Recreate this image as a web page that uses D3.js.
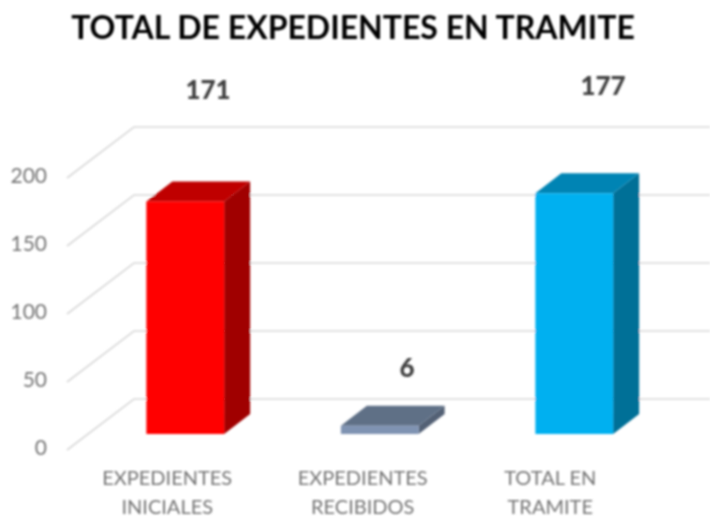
<!DOCTYPE html>
<html lang="en">
  <head>
    <meta charset="utf-8">
    <title>Total de expedientes en tramite</title>
    <script src="https://cdn.jsdelivr.net/npm/d3@7"></script>
    <style>
      html, body { margin: 0; padding: 0; background: #fff; }
      svg { display: block; }
      text { font-family: Lato, "Open Sans", sans-serif; }
      .axis path, .axis line { display: none; }
      .axis text { font-family: Lato, sans-serif; font-size: 20px; fill: #757575; }
    </style>
  </head>
  <body>
    <script>
      var w = 710;
      var h = 518;

      var titleText = "TOTAL DE EXPEDIENTES EN TRAMITE";
      var categories = ["EXPEDIENTES INICIALES", "EXPEDIENTES RECIBIDOS", "TOTAL EN TRAMITE"];
      var catLines = [["EXPEDIENTES", "INICIALES"], ["EXPEDIENTES", "RECIBIDOS"], ["TOTAL EN", "TRAMITE"]];
      var values = [171, 6, 177];
      var yTicks = [0, 50, 100, 150, 200];

      var faceColors = ["#ff0000", "#7f93b2", "#00b0f0"];
      var topColors = ["#bf0000", "#5f6f86", "#0084b4"];
      var sideColors = ["#a00000", "#526075", "#006f97"];

      // hand-placed labels, same as the original
      var labelX = [208, 407, 603];
      var labelY = [99, 377, 95];
      var catShift = [-18, -17, -24];

      var yScale = d3.scaleLinear().domain([0, 200]).range([450, 178]);
      var xScale = d3.scaleBand().domain(categories).range([88, 671.5]).paddingInner(0.6).paddingOuter(0.3);

      // wall offset and bar depth of the fake 3d
      var wallDx = 67, wallDy = -51;
      var barDx = 26, barDy = -20;
      var floorDy = -16;

      var svg = d3.select("body").append("svg").attr("width", w).attr("height", h);

      var defs = svg.append("defs");
      defs.append("filter").attr("id", "soft")
          .append("feGaussianBlur").attr("stdDeviation", 0.8);

      var root = svg.append("g").attr("filter", "url(#soft)");

      root.append("text")
          .attr("x", 353)
          .attr("y", 39)
          .attr("text-anchor", "middle")
          .attr("font-size", 32)
          .attr("font-weight", 700)
          .attr("fill", "#000")
          .text(titleText);

      // grid: wall line plus the slanted bit down to the axis
      var x0 = 67;
      root.selectAll(".grid")
          .data(yTicks)
          .enter()
          .append("path")
          .attr("class", "grid")
          .attr("fill", "none")
          .attr("stroke", "#d9d9d9")
          .attr("stroke-width", 1.6)
          .attr("d", function(d) {
            var y = yScale(d);
            return "M" + x0 + "," + y + "L" + (x0 + wallDx) + "," + (y + wallDy) + "H" + w;
          });

      var bars = root.selectAll(".bar")
          .data(values)
          .enter()
          .append("g")
          .attr("class", "bar");

      function barBox(d, i) {
        var x = xScale(categories[i]);
        return {
          x: x,
          r: x + xScale.bandwidth(),
          top: yScale(d) + floorDy,
          bottom: yScale(0) + floorDy
        };
      }

      bars.append("path")
          .attr("fill", function(d, i) { return sideColors[i]; })
          .attr("d", function(d, i) {
            var b = barBox(d, i);
            return "M" + b.r + "," + b.top + "l" + barDx + "," + barDy + "V" + (b.bottom + barDy) + "L" + b.r + "," + b.bottom + "Z";
          });

      bars.append("path")
          .attr("fill", function(d, i) { return topColors[i]; })
          .attr("d", function(d, i) {
            var b = barBox(d, i);
            return "M" + b.x + "," + b.top + "l" + barDx + "," + barDy + "H" + (b.r + barDx) + "L" + b.r + "," + b.top + "Z";
          });

      bars.append("rect")
          .attr("fill", function(d, i) { return faceColors[i]; })
          .attr("x", function(d, i) { return barBox(d, i).x; })
          .attr("y", function(d, i) { return barBox(d, i).top; })
          .attr("width", xScale.bandwidth())
          .attr("height", function(d, i) { var b = barBox(d, i); return b.bottom - b.top; });

      root.selectAll(".value")
          .data(values)
          .enter()
          .append("text")
          .attr("class", "value")
          .attr("x", function(d, i) { return labelX[i]; })
          .attr("y", function(d, i) { return labelY[i]; })
          .attr("text-anchor", "middle")
          .attr("font-size", 26)
          .attr("font-weight", 900)
          .attr("fill", "#404040")
          .text(function(d) { return d; });

      var yAxis = d3.axisLeft(yScale).tickValues(yTicks).tickSize(0).tickPadding(0);
      root.append("g")
          .attr("class", "axis")
          .attr("transform", "translate(47,-2)")
          .call(yAxis)
          .selectAll("text")
          .style("font-size", "21px");

      var xAxis = d3.axisBottom(xScale).tickSize(0).tickFormat("");
      var xAxisG = root.append("g")
          .attr("class", "axis")
          .attr("transform", "translate(0,464)")
          .call(xAxis);

      xAxisG.selectAll(".tick text")
          .attr("y", 0)
          .attr("dy", null)
          .each(function(d, i) {
            var t = d3.select(this);
            t.append("tspan").attr("x", catShift[i]).attr("y", 21).text(catLines[i][0]);
            t.append("tspan").attr("x", catShift[i]).attr("y", 50).text(catLines[i][1]);
          });
    </script>
  </body>
</html>
